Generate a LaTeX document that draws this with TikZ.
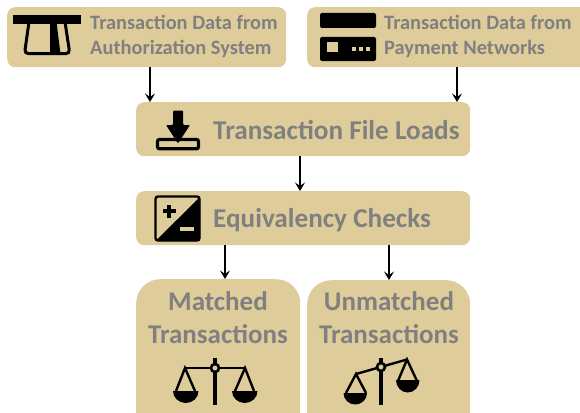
\documentclass[tikz,border=0pt]{standalone}
\usepackage{fontspec}
\setmainfont{Carlito}[Ligatures=TeX]
\definecolor{tan}{HTML}{DFCC9B}
\definecolor{labelgray}{HTML}{808080}
\tikzset{
  x=1pt,y=-1pt,
  panel/.style={fill=tan,draw=none,rounded corners=#1,inner sep=0pt,anchor=north west},
  panel/.default=8pt,
  small label/.style={text=labelgray,font=\bfseries\fontsize{20.4}{25}\selectfont,align=left,anchor=west,inner sep=0pt},
  mid label/.style={text=labelgray,font=\bfseries\fontsize{27.2}{30}\selectfont,anchor=west,inner sep=0pt},
  big label/.style={text=labelgray,font=\bfseries\fontsize{27}{33}\selectfont,align=center,anchor=center,inner sep=0pt},
  flow/.style={draw=black,line width=1.8pt,-{Stealth[length=8.5pt,width=10pt,inset=3.5pt]}},
  ink/.style={fill=black,draw=none},
  rope/.style={draw=black,line width=2.4pt},
}
\usetikzlibrary{arrows.meta}
\begin{document}
\begin{tikzpicture}
\useasboundingbox (0,0) rectangle (580,412);
\clip (0,0) rectangle (580,412);
% panels
\node[panel,minimum width=279pt,minimum height=60pt] (auth) at (7,7) {};
\node[panel,minimum width=290pt,minimum height=60pt] (pay) at (307,7) {};
\node[panel,minimum width=334pt,minimum height=54pt] (load) at (136,102) {};
\node[panel,minimum width=334pt,minimum height=54pt] (equiv) at (136,191) {};
\node[panel=24pt,minimum width=164pt,minimum height=160pt] (match) at (136,279) {};
\node[panel=24pt,minimum width=163pt,minimum height=160pt] (unmatch) at (307,280) {};
% labels
\node[small label] (t1) at (90,36.5) {Transaction Data from\\Authorization System};
\node[small label] (t2) at (384,36.5) {Transaction Data from\\Payment Networks};
\node[mid label] (t3) at (213,130.5) {Transaction File Loads};
\node[mid label] (t4) at (213,220.5) {Equivalency Checks};
\node[big label] (t5) at (218,318) {Matched\\Transactions};
\node[big label] (t6) at (389,318) {Unmatched\\Transactions};
% connector positions
\coordinate (xa) at (150,0);
\coordinate (xb) at (457,0);
\coordinate (xc) at (300,0);
\coordinate (xd) at (225,0);
\coordinate (xe) at (389,0);
\draw[flow] (auth.south -| xa) -- (load.north -| xa);
\draw[flow] (pay.south -| xb) -- (load.north -| xb);
\draw[flow] (load.south -| xc) -- (equiv.north -| xc);
\draw[flow] (equiv.south -| xd) -- (match.north -| xd);
\draw[flow] (equiv.south -| xe) -- (unmatch.north -| xe);
% icon: lane
\fill[ink] (13,15) rectangle (81,24.5);
\draw[line width=3pt,rounded corners=4pt] (29,22) -- (24.5,53.7) -- (69.8,53.7) -- (65,22);
\fill[ink] (50,22) -- (56.5,22) -- (60.5,54) -- (50,54) -- cycle;
% icon: card
\fill[ink,rounded corners=2pt] (320,13) rectangle (376,28);
\fill[ink,rounded corners=2pt] (320,37) rectangle (376,61);
\fill[tan] (327,42) rectangle (338,52);
\fill[tan] (352,47) rectangle (356,51.5);
\fill[tan] (359,47) rectangle (363,51.5);
\fill[tan] (366,47) rectangle (370,51.5);
% icon: download
\draw[line width=3.2pt,rounded corners=2pt] (157.5,139.5) rectangle (198.5,148.8);
\fill[ink,rounded corners=1pt] (173,110.5) -- (183,110.5) -- (183,125) -- (190,125) -- (178,143.5) -- (166,125) -- (173,125) -- cycle;
\fill[ink] (172.5,125) rectangle (183.5,131);
% icon: plus minus
\draw[line width=2.4pt,rounded corners=2.5pt,fill=tan] (155.5,196.5) rectangle (199.5,240.5);
\fill[ink,rounded corners=2pt] (200,197) -- (200,241) -- (155.5,241) -- cycle;
\fill[ink] (162.5,209.4) rectangle (175.5,212.8);
\fill[ink] (167.3,204.5) rectangle (170.7,217.5);
\fill[tan] (180,226.5) rectangle (194,230.5);
% icon: balanced scale
\fill[ink] (213.2,358) rectangle (216.8,405);
\draw[rope] (185,368) -- (245,368);
\draw[rope] (176,391) -- (185,368) -- (195,391);
\draw[rope] (235,391) -- (245,368) -- (254,391);
\fill[ink] (173,391) -- (198.5,391) arc[start angle=0,end angle=180,x radius=12.75pt,y radius=-12pt] -- cycle;
\fill[ink] (232,391) -- (257.5,391) arc[start angle=0,end angle=180,x radius=12.75pt,y radius=-12pt] -- cycle;
\draw[line width=2.6pt,fill=tan] (215,368) circle[radius=4pt];
% icon: tilted scale
\fill[ink] (379.2,358) rectangle (382.8,405);
\draw[rope] (356,374) -- (407,359.5);
\draw[rope] (346,393) -- (356,374) -- (366,393);
\draw[rope] (398,381) -- (407,359.5) -- (417,381);
\fill[ink] (343.5,393) -- (367,393) arc[start angle=0,end angle=180,x radius=11.75pt,y radius=-11.5pt] -- cycle;
\fill[ink] (396,380) -- (419.5,380) arc[start angle=0,end angle=180,x radius=11.75pt,y radius=-12.5pt] -- cycle;
\draw[line width=2.6pt,fill=tan] (381,367) circle[radius=4pt];
\end{tikzpicture}
\end{document}
